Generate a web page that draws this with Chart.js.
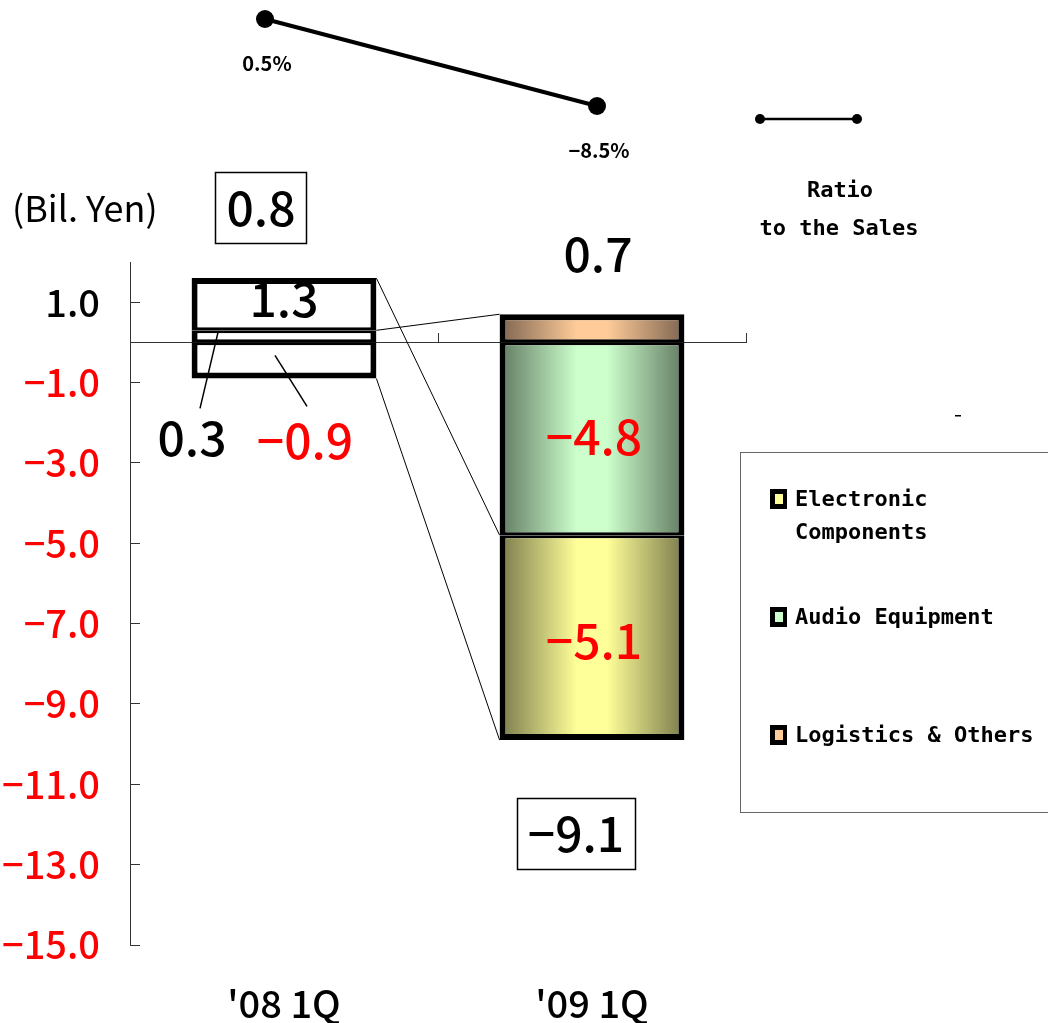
<!DOCTYPE html>
<html>
<head>
<meta charset="utf-8">
<script src="https://cdn.jsdelivr.net/npm/chart.js@4.4.1/dist/chart.umd.min.js"></script>
<style>
  html, body { margin: 0; padding: 0; background: #fff; }
  #wrap { position: relative; width: 1048px; height: 1023px; overflow: hidden; }
  #wrap canvas { position: absolute; }
</style>
</head>
<body>
<div id="wrap">
  <canvas id="profit-bar" width="1048" height="1023" style="left:0;top:0"></canvas>
  <canvas id="ratio-line" width="664" height="170" style="left:99px;top:0"></canvas>
</div>
<script>
////////// Data
const quarters = ["'08 1Q", "'09 1Q"];
const logistics = [0.3, 0.7];
const audio = [1.3, -4.8];
const electronic = [-0.9, -5.1];
const totals = [0.8, -9.1];
const ratioToSales = [0.5, -8.5];
const yTicks = [1, -1, -3, -5, -7, -9, -11, -13, -15];

const numFont = "'Noto Sans CJK JP', 'Noto Sans', sans-serif";
const monoFont = "'DejaVu Sans Mono', monospace";
const RED = "#FF0000";

const fmt = (v) => (v < 0 ? "\u2212" : "") + Math.abs(v).toFixed(1);

// '08 bars are plain white, '09 bars get the shaded fill
function barFill(ctx, dark, light) {
  if (ctx.dataIndex === 0) return "#FFFFFF";
  const chart = ctx.chart;
  const x = chart.scales.x;
  if (!chart.chartArea || !x) return light;
  const step = x.getPixelForValue(1) - x.getPixelForValue(0);
  const cx = x.getPixelForValue(ctx.dataIndex);
  const half = step * 0.3;
  const g = chart.ctx.createLinearGradient(cx - half, 0, cx + half, 0);
  g.addColorStop(0, dark);
  g.addColorStop(0.42, light);
  g.addColorStop(0.58, light);
  g.addColorStop(1, dark);
  return g;
}

// thick outline, but shared edges between stacked pieces only count once
function segBorder(ctx) {
  const ds = ctx.chart.data.datasets;
  const i = ctx.datasetIndex;
  const j = ctx.dataIndex;
  const sign = Math.sign(ds[i].data[j]);
  const later = ds.slice(i + 1).some((d) => Math.sign(d.data[j]) === sign);
  const earlier = ds.slice(0, i).some((d) => Math.sign(d.data[j]) === sign);
  const opposite = ds.some((d) => Math.sign(d.data[j]) === -sign);
  const full = 6;
  const half = 3;
  const far = later ? half : full;
  const base = earlier || opposite ? half : full;
  return sign >= 0
    ? { top: far, bottom: base, left: full, right: full }
    : { top: base, bottom: far, left: full, right: full };
}

////////// Plugins
const seriesLines = {
  id: "seriesLines",
  beforeDatasetsDraw(chart) {
    const c = chart.ctx;
    c.save();
    c.strokeStyle = "#000";
    c.lineWidth = 1;
    chart.data.datasets.forEach((d, i) => {
      const [a, b] = chart.getDatasetMeta(i).data;
      c.beginPath();
      c.moveTo(a.x + a.width / 2, a.y);
      c.lineTo(b.x - b.width / 2, b.y);
      c.stroke();
    });
    c.restore();
  },
};

const labelSpots = {
  "0-0": { dx: -92, dy: 101, leader: [-66, -4, -84, 72] },
  "1-0": { dx: 0, dy: -5 },
  "2-0": { dx: 21, dy: 80, leader: [-9, -5, 23, 46] },
  "0-1": { dx: 6, dy: -75 },
  "1-1": { dx: 2, dy: -2 },
  "2-1": { dx: 2, dy: 3 },
};

const segmentLabels = {
  id: "segmentLabels",
  afterDatasetsDraw(chart) {
    const c = chart.ctx;
    c.save();
    c.font = `500 48px ${numFont}`;
    c.textAlign = "center";
    c.textBaseline = "middle";
    chart.data.datasets.forEach((d, i) => {
      chart.getDatasetMeta(i).data.forEach((el, j) => {
        const spot = labelSpots[i + "-" + j];
        if (!spot) return;
        const v = d.data[j];
        const cx = el.x;
        const cy = (el.y + el.base) / 2;
        if (spot.leader) {
          const [x1, y1, x2, y2] = spot.leader;
          c.strokeStyle = "#000";
          c.lineWidth = 1.5;
          c.beginPath();
          c.moveTo(cx + x1, cy + y1);
          c.lineTo(cx + x2, cy + y2);
          c.stroke();
        }
        c.fillStyle = v < 0 ? RED : "#000";
        c.fillText(fmt(v), cx + spot.dx, cy + spot.dy);
      });
    });
    c.restore();
  },
};

const totalSpots = [
  { dx: -23, y: 208 },
  { dx: -16, y: 834 },
];

const totalBoxes = {
  id: "totalBoxes",
  afterDatasetsDraw(chart) {
    const c = chart.ctx;
    const x = chart.scales.x;
    c.save();
    c.font = `500 48px ${numFont}`;
    c.textAlign = "center";
    c.textBaseline = "middle";
    totals.forEach((v, j) => {
      const cx = x.getPixelForValue(j) + totalSpots[j].dx;
      const cy = totalSpots[j].y;
      const text = fmt(v);
      const w = c.measureText(text).width + 22;
      c.strokeStyle = "#000";
      c.lineWidth = 1.5;
      c.strokeRect(Math.round(cx - w / 2) + 0.5, cy - 35.5, Math.round(w), 71);
      c.fillStyle = "#000";
      c.fillText(text, cx, cy);
    });
    c.restore();
  },
};

function wrapText(c, text, maxWidth) {
  const words = text.split(" ");
  const lines = [];
  let line = "";
  words.forEach((w) => {
    const test = line ? line + " " + w : w;
    if (line && c.measureText(test).width > maxWidth) {
      lines.push(line);
      line = w;
    } else {
      line = test;
    }
  });
  lines.push(line);
  return lines;
}

const legendBox = {
  id: "legendBox",
  afterDraw(chart) {
    const c = chart.ctx;
    c.save();
    c.strokeStyle = "#666";
    c.lineWidth = 1;
    c.strokeRect(740.5, 452.5, 330, 360);
    c.font = `bold 22px ${monoFont}`;
    c.textAlign = "left";
    c.textBaseline = "middle";
    chart.data.datasets
      .slice()
      .reverse()
      .forEach((d, k) => {
        const y = 500 + k * 118;
        c.fillStyle = "#000";
        c.fillRect(770, y - 11, 17, 20);
        c.fillStyle = d.legendColor;
        c.fillRect(775, y - 6, 8, 10);
        c.fillStyle = "#000";
        wrapText(c, d.label, 250).forEach((line, n) => {
          c.fillText(line, 795, y + n * 33);
        });
      });

    // legend entry for the ratio line
    c.strokeStyle = "#000";
    c.lineWidth = 2.5;
    c.beginPath();
    c.moveTo(760, 119);
    c.lineTo(857, 119);
    c.stroke();
    [760, 857].forEach((px) => {
      c.beginPath();
      c.arc(px, 119, 5, 0, Math.PI * 2);
      c.fill();
    });
    c.textAlign = "center";
    c.fillText("Ratio", 840, 191);
    c.fillText("to the Sales", 839, 229);

    // unit note and stray tick mark
    c.textAlign = "left";
    c.font = `36px ${numFont}`;
    c.fillText("(Bil. Yen)", 12, 208);
    c.fillRect(955, 415, 6, 1.5);
    c.restore();
  },
};

////////// Profit by segment (stacked bars)
const profitEl = document.getElementById("profit-bar").getContext("2d");

const profitBar = new Chart(profitEl, {
  type: "bar",
  data: {
    labels: quarters,
    datasets: [
      {
        label: "Logistics & Others",
        data: logistics,
        legendColor: "#FFCC99",
        backgroundColor: (ctx) => barFill(ctx, "#7d6450", "#FFCC99"),
      },
      {
        label: "Audio Equipment",
        data: audio,
        legendColor: "#CCFFCC",
        backgroundColor: (ctx) => barFill(ctx, "#627a62", "#CCFFCC"),
      },
      {
        label: "Electronic Components",
        data: electronic,
        legendColor: "#FFFF99",
        backgroundColor: (ctx) => barFill(ctx, "#7a7a4c", "#FFFF99"),
      },
    ],
  },
  options: {
    responsive: false,
    animation: false,
    layout: { padding: { left: 0, top: 262, right: 302, bottom: 0 } },
    datasets: {
      bar: {
        barPercentage: 0.75,
        categoryPercentage: 0.8,
        borderColor: "#000",
        borderWidth: segBorder,
        borderSkipped: false,
      },
    },
    plugins: {
      legend: { display: false },
      tooltip: { enabled: false },
    },
    scales: {
      x: {
        stacked: true,
        grid: { display: false, drawTicks: false },
        border: { display: false },
        ticks: {
          color: "#000",
          padding: 36,
          font: { family: numFont, size: 38, weight: 500 },
        },
        afterFit: (s) => {
          s.height = 78;
        },
      },
      x0: {
        type: "category",
        position: { y: 0 },
        offset: true,
        grid: {
          offset: true,
          drawOnChartArea: false,
          drawTicks: true,
          tickLength: -10,
          color: "#333",
        },
        border: { color: "#333", width: 1 },
        ticks: { display: false },
        afterFit: (s) => {
          s.height = 0;
        },
      },
      y: {
        stacked: true,
        min: -15,
        max: 2,
        afterBuildTicks: (s) => {
          s.ticks = yTicks.map((v) => ({ value: v }));
        },
        grid: {
          drawOnChartArea: false,
          drawTicks: true,
          tickLength: -10,
          color: "#333",
        },
        border: { color: "#333", width: 1 },
        ticks: {
          padding: 40,
          color: (ctx) => (ctx.tick.value < 0 ? RED : "#000"),
          font: { family: numFont, size: 38, weight: 500 },
          callback: (v) => fmt(v),
        },
        afterFit: (s) => {
          s.width = 130;
        },
      },
    },
  },
  plugins: [seriesLines, segmentLabels, totalBoxes, legendBox],
});

////////// Ratio to the sales (line)
const ratioEl = document.getElementById("ratio-line").getContext("2d");

const ratioLabels = {
  id: "ratioLabels",
  afterDatasetsDraw(chart) {
    const c = chart.ctx;
    c.save();
    c.font = `bold 20px ${numFont}`;
    c.textAlign = "center";
    c.textBaseline = "middle";
    c.fillStyle = "#000";
    chart.getDatasetMeta(0).data.forEach((pt, j) => {
      c.fillText(fmt(ratioToSales[j]) + "%", pt.x + 2, pt.y + 44);
    });
    c.restore();
  },
};

const ratioLine = new Chart(ratioEl, {
  type: "line",
  data: {
    labels: quarters,
    datasets: [
      {
        label: "Ratio to the Sales",
        data: ratioToSales,
        borderColor: "#000",
        borderWidth: 4,
        pointRadius: 9,
        pointBackgroundColor: "#000",
        pointBorderWidth: 0,
        tension: 0,
      },
    ],
  },
  options: {
    responsive: false,
    animation: false,
    layout: { padding: 0, autoPadding: false },
    plugins: {
      legend: { display: false },
      tooltip: { enabled: false },
    },
    scales: {
      x: { display: false, offset: true },
      y: { display: false, min: -15.12, max: 2.465 },
    },
  },
  plugins: [ratioLabels],
});
</script>
</body>
</html>
